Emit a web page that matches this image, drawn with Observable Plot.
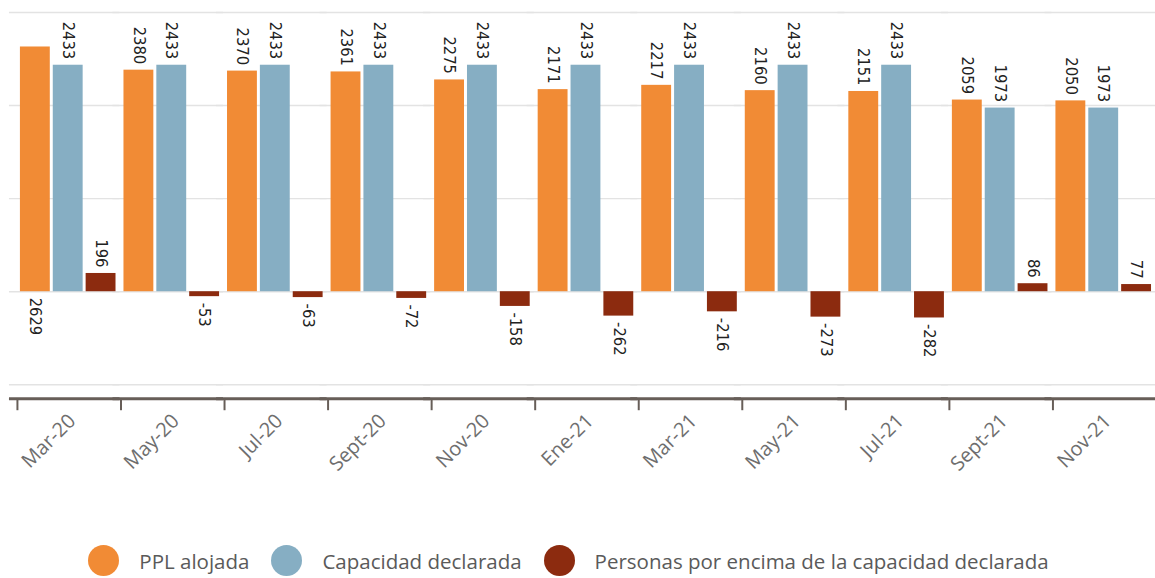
<!DOCTYPE html>
<html>
<head>
<meta charset="utf-8">
<script src="https://cdn.jsdelivr.net/npm/d3@7"></script>
<script src="https://cdn.jsdelivr.net/npm/@observablehq/plot@0.6"></script>
<style>
  html, body { margin: 0; padding: 0; background: #fff; overflow: hidden; width: 1155px; height: 578px; }
  #chart svg { display: block; }
  #legend { display: flex; justify-content: center; align-items: center; height: 30px; margin-top: 5px;
            font-family: "Open Sans", sans-serif; font-size: 20.5px; color: #5a5a5a; padding-right: 18px; }
  .item { display: flex; align-items: center; margin: 0 11px; }
  .dot { width: 31px; height: 31px; border-radius: 50%; margin-right: 20px; }
</style>
</head>
<body>
<div id="chart"></div>
<div id="legend"></div>
<script>
const months = ["Mar-20","May-20","Jul-20","Sept-20","Nov-20","Ene-21","Mar-21","May-21","Jul-21","Sept-21","Nov-21"];
const series = ["PPL alojada","Capacidad declarada","Personas por encima de la capacidad declarada"];
const pplAlojada = [2629,2380,2370,2361,2275,2171,2217,2160,2151,2059,2050];
const capacidad = [2433,2433,2433,2433,2433,2433,2433,2433,2433,1973,1973];
const encima = [196,-53,-63,-72,-158,-262,-216,-273,-282,86,77];
const colors = ["#f18b35","#86aec3","#8c2b0f"];
const gridTicks = [-1000,0,1000,2000,3000];

const data = [];
months.forEach((m, i) => {
  data.push({month: m, series: series[0], value: pplAlojada[i]});
  data.push({month: m, series: series[1], value: capacidad[i]});
  data.push({month: m, series: series[2], value: encima[i]});
});

const W = 1160, ML = 16, MR = 0;
const step = (W - ML - MR) / months.length;
const yTop = 3000, yBottom = -1150;
const overflow = d => d.value > 2550;

const numFont = "DejaVu Sans Condensed";
const numSize = 16.5;
const chart = Plot.plot({
  width: W, height: 543,
  marginLeft: ML, marginRight: MR, marginTop: 12, marginBottom: 143,
  style: {fontFamily: "Open Sans, sans-serif", background: "transparent"},
  fx: {domain: months, padding: 0, label: null},
  x: {domain: series, padding: 0.1, axis: null},
  y: {domain: [yBottom, yTop], axis: null},
  color: {domain: series, range: colors},
  marks: [
    Plot.ruleY(gridTicks, {stroke: "#e3e3e3", strokeWidth: 1.5, insetLeft: -7}),
    Plot.barY(data, {fx: "month", x: "series", y: "value", fill: "series"}),
    Plot.text(data.filter(d => d.value >= 0 && !overflow(d)), {fx: "month", x: "series", y: "value", text: d => String(d.value),
      rotate: 90, textAnchor: "end", dy: -6, fontSize: numSize, fontFamily: numFont, fill: "#222"}),
    Plot.text(data.filter(d => d.value < 0), {fx: "month", x: "series", y: "value", text: d => String(d.value),
      rotate: 90, textAnchor: "start", dy: 6, fontSize: numSize, fontFamily: numFont, fill: "#222"}),
    Plot.text(data.filter(overflow), {fx: "month", x: "series", y: 0, text: d => String(d.value),
      rotate: 90, textAnchor: "start", dy: 6, fontSize: numSize, fontFamily: numFont, fill: "#222"}),
    Plot.ruleY([yBottom], {stroke: "#675e58", strokeWidth: 3, insetLeft: -7}),
    Plot.axisFx({anchor: "bottom", tickSize: 12, text: null, stroke: "#675e58", strokeWidth: 2, dx: -step / 2 + 1}),
    Plot.axisFx({anchor: "bottom", tickSize: 0, tickPadding: 19, tickRotate: -45, fontSize: 20, fill: "#6e6e6e", label: null, dx: 4})
  ]
});
document.getElementById("chart").appendChild(chart);

const legend = document.getElementById("legend");
series.forEach((s, i) => {
  const it = document.createElement("div");
  it.className = "item";
  const dot = document.createElement("span");
  dot.className = "dot";
  dot.style.background = colors[i];
  const t = document.createElement("span");
  t.textContent = s;
  it.appendChild(dot); it.appendChild(t);
  legend.appendChild(it);
});
</script>
</body>
</html>
